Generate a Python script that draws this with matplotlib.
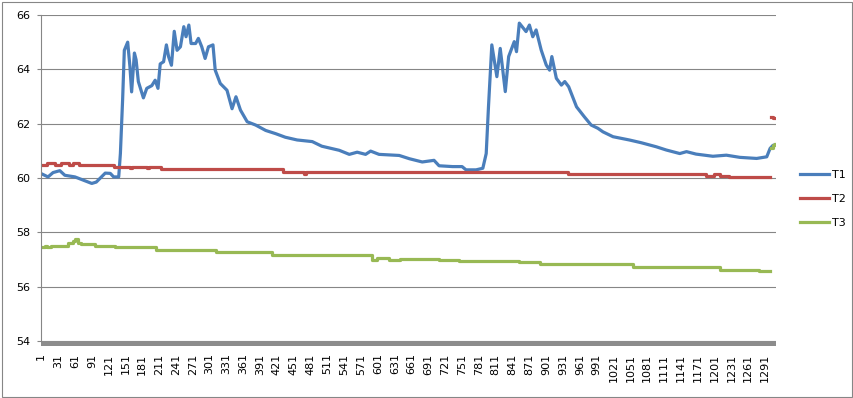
import numpy as np
import matplotlib.pyplot as plt
from matplotlib.patches import Rectangle

# T1: readings (sample index, value) picked off the chart
t1_idx = [1, 13, 22, 34, 43, 61, 76, 91, 99, 115, 124, 130, 139, 142, 146, 149, 155, 159,
          162, 167, 170, 174, 183, 189, 198, 204, 209, 213, 219, 224, 228, 233, 238, 243,
          249, 255, 259, 264, 268, 276, 281, 287, 293, 299, 307, 311, 320, 332, 341, 348,
          356, 368, 383, 401, 419, 436, 457, 484, 501, 532, 550, 564, 579, 588, 603, 639,
          657, 680, 701, 710, 734, 751, 758, 776, 788, 794, 798, 804, 813, 819, 828, 834,
          844, 848, 853, 865, 871, 877, 883, 892, 901, 907, 911, 919, 928, 934, 941, 955,
          969, 981, 993, 1002, 1020, 1049, 1070, 1097, 1115, 1139, 1151, 1168, 1198, 1222,
          1246, 1276, 1294, 1300, 1305, 1308]
t1_val = [60.16, 60.04, 60.2, 60.27, 60.1, 60.04, 59.92, 59.8, 59.85, 60.18, 60.17, 60.04,
          60.04, 60.9, 62.9, 64.7, 65.0, 64.1, 63.17, 64.6, 64.35, 63.55, 62.95, 63.3, 63.4,
          63.6, 63.3, 64.2, 64.28, 64.9, 64.46, 64.15, 65.4, 64.7, 64.83, 65.57, 65.2, 65.63,
          64.95, 64.95, 65.14, 64.83, 64.4, 64.83, 64.9, 63.97, 63.48, 63.23, 62.55, 62.99,
          62.5, 62.07, 61.95, 61.75, 61.63, 61.5, 61.4, 61.34, 61.17, 61.02, 60.87, 60.95,
          60.87, 60.99, 60.87, 60.83, 60.71, 60.59, 60.65, 60.45, 60.42, 60.42, 60.3, 60.3,
          60.36, 60.9, 62.6, 64.9, 63.73, 64.77, 63.18, 64.47, 65.02, 64.65, 65.7, 65.39,
          65.63, 65.2, 65.45, 64.71, 64.16, 63.97, 64.47, 63.67, 63.42, 63.55, 63.36, 62.62,
          62.25, 61.95, 61.83, 61.7, 61.52, 61.4, 61.3, 61.15, 61.03, 60.9, 60.97, 60.88,
          60.8, 60.84, 60.76, 60.72, 60.78, 61.09, 61.2, 61.22]

# T2: step levels (index where the level starts, value)
t2_idx = [1, 12, 26, 36, 50, 58, 68, 130, 160, 163, 190, 193, 215, 431, 470, 473, 940,
          1186, 1200, 1210, 1226, 1300, 1302, 1305, 1308]
t2_val = [60.48, 60.55, 60.48, 60.55, 60.48, 60.55, 60.48, 60.42, 60.36, 60.42, 60.36,
          60.42, 60.33, 60.21, 60.15, 60.21, 60.15, 60.09, 60.15, 60.09, 60.02, np.nan,
          62.25, 62.2, 62.2]

# T3: step levels (index where the level starts, value)
t3_idx = [1, 8, 12, 19, 31, 49, 58, 61, 66, 72, 97, 133, 206, 312, 412, 591, 600, 620,
          640, 710, 746, 853, 889, 996, 1055, 1211, 1280, 1300, 1302, 1305, 1308]
t3_val = [57.45, 57.5, 57.45, 57.48, 57.5, 57.6, 57.68, 57.74, 57.6, 57.56, 57.5, 57.45,
          57.36, 57.27, 57.15, 57.0, 57.06, 57.0, 57.03, 56.97, 56.95, 56.9, 56.85, 56.82,
          56.73, 56.63, 56.58, np.nan, 61.1, 61.2, 61.25]

n_points = 1310
x_ticks = list(range(1, 1292, 30))

fig = plt.figure(figsize=(8.54, 3.98), dpi=100)
ax = fig.add_axes([41 / 854, 57 / 398, 735 / 854, 326 / 398])

ax.plot(t1_idx, t1_val, color="#4a7ebb", lw=2.3, label="T1", solid_joinstyle="round")
ax.plot(t2_idx, t2_val, color="#be4b48", lw=2.3, label="T2", drawstyle="steps-post")
ax.plot(t3_idx, t3_val, color="#98b954", lw=2.3, label="T3", drawstyle="steps-post")

ax.set_xlim(0.5, n_points + 0.5)
ax.set_ylim(54, 66)
ax.set_yticks(range(54, 67, 2))
ax.set_xticks(x_ticks)
ax.set_xticklabels([str(t) for t in x_ticks], rotation=90, fontsize=8)
ax.tick_params(axis="y", labelsize=8, length=3, width=0.8, color="#868686", pad=5)
ax.tick_params(axis="x", length=0, pad=9)
ax.grid(axis="y", color="#868686", lw=0.8)
ax.set_axisbelow(True)
for s in ["top", "right", "bottom"]:
    ax.spines[s].set_visible(False)
ax.spines["left"].set_color("#868686")
ax.spines["left"].set_linewidth(0.8)

# grey floor under the plot
ax.add_patch(Rectangle((0, -0.016), 1, 0.016, transform=ax.transAxes,
                       color="#8c8c8c", clip_on=False, lw=0))

# chart border
fig.add_artist(Rectangle((2 / 854, 1.5 / 398), 850 / 854, 395 / 398, transform=fig.transFigure,
                         fill=False, edgecolor="#868686", lw=0.8))

fig.legend(loc="center left", bbox_to_anchor=(790 / 854, 1 - 199 / 398), frameon=False,
           fontsize=8, handlelength=2.6, handletextpad=0.3, labelspacing=1.25)

fig.savefig("out.png", dpi=100)
